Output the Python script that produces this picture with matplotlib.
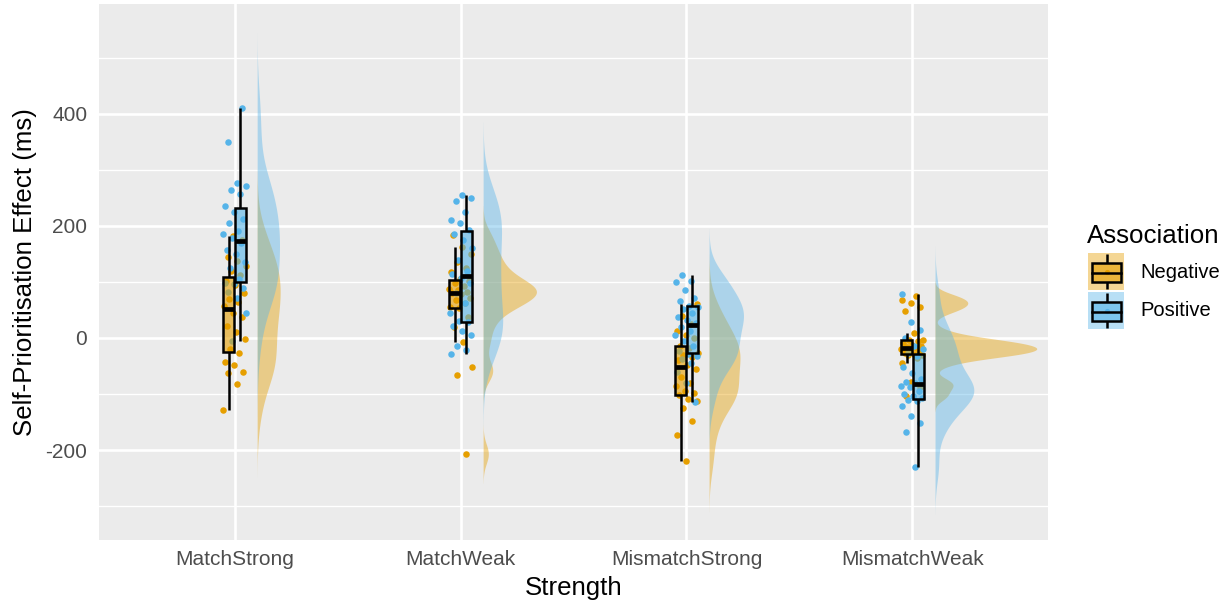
import numpy as np
import matplotlib
matplotlib.use("Agg")
import matplotlib.pyplot as plt
from matplotlib.patches import Rectangle

plt.rcParams['font.family'] = ['Liberation Sans', 'DejaVu Sans']

# ---------------- data ----------------
categories = ["MatchStrong", "MatchWeak", "MismatchStrong", "MismatchWeak"]
groups = ["Negative", "Positive"]

match_strong_neg = [-129, -83, -62, -61, -48, -42, -26, -20, -2, 10, 22, 38, 45,
                    57, 64, 69, 81, 95, 102, 112, 120, 129, 138, 145, 175, 183]
match_strong_pos = [-6, 44, 71, 82, 90, 97, 99, 106, 125, 135, 150, 158, 170,
                    178, 186, 191, 205, 212, 225, 235, 258, 265, 271, 277, 350, 411]
match_weak_neg = [-207, -66, -51, -8, 20, 38, 54, 55, 62, 68, 72, 78, 80,
                  82, 85, 88, 92, 98, 102, 105, 118, 125, 135, 150, 162, 184]
match_weak_pos = [-29, -21, -14, 6, 13, 22, 28, 30, 44, 62, 80, 98, 108,
                  114, 119, 140, 160, 175, 186, 193, 205, 211, 225, 244, 250, 256]
mismatch_strong_neg = [-220, -173, -148, -125, -113, -109, -102, -98, -94, -85, -80, -70, -55,
                       -48, -40, -34, -30, -27, -18, -14, 0, 5, 12, 25, 40, 60]
mismatch_strong_pos = [-114, -80, -60, -45, -38, -32, -28, -24, -15, -6, 5, 12, 20,
                       26, 32, 38, 44, 51, 55, 58, 66, 72, 85, 100, 101, 113]
mismatch_weak_neg = [-104, -88, -78, -45, -36, -30, -29.5, -29, -27, -24, -21, -19, -18,
                     -16, -14, -12, -9, -6, -4, -3, 9, 48, 56, 62, 68, 75]
mismatch_weak_pos = [-230, -167, -151, -139, -121, -112, -110, -108, -103, -100, -95, -88, -85,
                     -81, -78, -73, -62, -51, -33, -27, -20, -14, 0, 15, 29, 79]

data = {
    ("MatchStrong", "Negative"): match_strong_neg,
    ("MatchStrong", "Positive"): match_strong_pos,
    ("MatchWeak", "Negative"): match_weak_neg,
    ("MatchWeak", "Positive"): match_weak_pos,
    ("MismatchStrong", "Negative"): mismatch_strong_neg,
    ("MismatchStrong", "Positive"): mismatch_strong_pos,
    ("MismatchWeak", "Negative"): mismatch_weak_neg,
    ("MismatchWeak", "Positive"): mismatch_weak_pos,
}

y_ticks = [-200, 0, 200, 400]
y_minor = [-300, -100, 100, 300, 500]

colors = {"Negative": "#E69F00", "Positive": "#56B4E9"}

# ---------------- helpers ----------------
def nrd0(x):
    x = np.asarray(x, float)
    sd = np.std(x, ddof=1)
    q75, q25 = np.percentile(x, [75, 25])
    lo = min(sd, (q75 - q25) / 1.34)
    return 0.9 * lo * len(x) ** (-0.2)

def kde(x):
    x = np.asarray(x, float)
    bw = nrd0(x)
    grid = np.linspace(x.min() - 3 * bw, x.max() + 3 * bw, 512)
    d = np.exp(-0.5 * ((grid[:, None] - x[None, :]) / bw) ** 2).sum(1)
    d /= (len(x) * bw * np.sqrt(2 * np.pi))
    return grid, d

# deterministic jitter offsets (positions only)
def jitter(n, k):
    phi = 0.6180339887
    return np.array([((i * phi + k * 0.37) % 1.0) * 2 - 1 for i in range(n)]) * 0.052

# ---------------- figure ----------------
W, H = 1230, 606
fig = plt.figure(figsize=(W / 100, H / 100), dpi=100)
L, R, T, B = 99, 1048, 4, 540
ax = fig.add_axes([L / W, 1 - B / H, (R - L) / W, (B - T) / H])
ax.set_facecolor("#EBEBEB")
for s in ax.spines.values():
    s.set_visible(False)
ax.set_xlim(0.4, 4.6)
ax.set_ylim(-360.7, 596.4)

for v in y_minor:
    ax.axhline(v, color="white", lw=0.95, zorder=0.5)
for v in y_ticks:
    ax.axhline(v, color="white", lw=1.9, zorder=0.6)
for i in range(len(categories)):
    ax.axvline(i + 1, color="white", lw=1.9, zorder=0.6)

# densities
dens = {}
gmax = 0
for key, vals in data.items():
    g, d = kde(vals)
    dens[key] = (g, d)
    gmax = max(gmax, d.max())

# violins
for i, cat in enumerate(categories):
    x0 = i + 1 + 0.10
    for grp in groups:
        g, d = dens[(cat, grp)]
        ax.fill_betweenx(g, x0, x0 + d / gmax * 0.45, color=colors[grp],
                         alpha=0.42, lw=0, zorder=1)

# points
k = 0
for i, cat in enumerate(categories):
    for grp in groups:
        vals = np.asarray(data[(cat, grp)], float)
        xs = i + 1 + jitter(len(vals), k)
        k += 1
        ax.scatter(xs, vals, s=22, color=colors[grp], lw=0, zorder=2)

# boxplots
bw_box = 0.048
LW = 1.8
for i, cat in enumerate(categories):
    for j, grp in enumerate(groups):
        vals = np.asarray(data[(cat, grp)], float)
        q1, med, q3 = np.percentile(vals, [25, 50, 75])
        iqr = q3 - q1
        lo = vals[vals >= q1 - 1.5 * iqr].min()
        hi = vals[vals <= q3 + 1.5 * iqr].max()
        xc = i + 1 + (-0.025 if j == 0 else 0.025)
        ax.plot([xc, xc], [q3, hi], color="black", lw=LW, zorder=3, solid_capstyle="butt")
        ax.plot([xc, xc], [lo, q1], color="black", lw=LW, zorder=3, solid_capstyle="butt")
        ax.add_patch(Rectangle((xc - bw_box / 2, q1), bw_box, q3 - q1,
                               facecolor=colors[grp], alpha=0.6, lw=0, zorder=3))
        ax.add_patch(Rectangle((xc - bw_box / 2, q1), bw_box, q3 - q1,
                               facecolor="none", edgecolor="black", lw=LW, zorder=3.1))
        ax.plot([xc - bw_box / 2, xc + bw_box / 2], [med, med], color="black",
                lw=3.4, zorder=3.2, solid_capstyle="butt")

ax.set_xticks(range(1, len(categories) + 1))
ax.set_xticklabels(categories)
ax.set_yticks(y_ticks)
ax.set_yticklabels([str(v) for v in y_ticks])
ax.tick_params(axis="both", length=0, labelsize=15, colors="#4D4D4D")
ax.tick_params(axis="x", pad=7)
ax.tick_params(axis="y", pad=8.5)

# overlay for titles & legend in pixel coords
ov = fig.add_axes([0, 0, 1, 1], facecolor="none")
ov.set_xlim(0, W)
ov.set_ylim(H, 0)
ov.axis("off")

ov.text((L + R) / 2, 595, "Strength", ha="center", va="baseline", fontsize=18.6, color="black")
ov.text(25, (T + B) / 2, "Self-Prioritisation Effect (ms)", ha="center", va="center",
        rotation=90, fontsize=18.6, color="black")

ov.text(1087, 243, "Association", ha="left", va="baseline", fontsize=18.6, color="black")
for n, grp in enumerate(groups):
    y0 = 253 + n * 39
    ov.add_patch(Rectangle((1088, y0), 36, 37, facecolor=colors[grp], alpha=0.42, lw=0))
    xc = 1106.5
    ov.plot([xc, xc], [y0 + 1, y0 + 10], color="black", lw=LW, solid_capstyle="butt")
    ov.plot([xc, xc], [y0 + 29, y0 + 36], color="black", lw=LW, solid_capstyle="butt")
    ov.scatter([xc], [y0 + 19], s=14, color=colors[grp], lw=0)
    ov.add_patch(Rectangle((1092, y0 + 10), 29, 19, facecolor=colors[grp], alpha=0.6, lw=0))
    ov.add_patch(Rectangle((1092, y0 + 10), 29, 19, facecolor="none", edgecolor="black", lw=LW))
    ov.plot([1092, 1121], [y0 + 19.5, y0 + 19.5], color="black", lw=LW)
    ov.text(1140, y0 + 19, grp, ha="left", va="center", fontsize=14.5, color="black")

fig.savefig("out.png", dpi=100)
